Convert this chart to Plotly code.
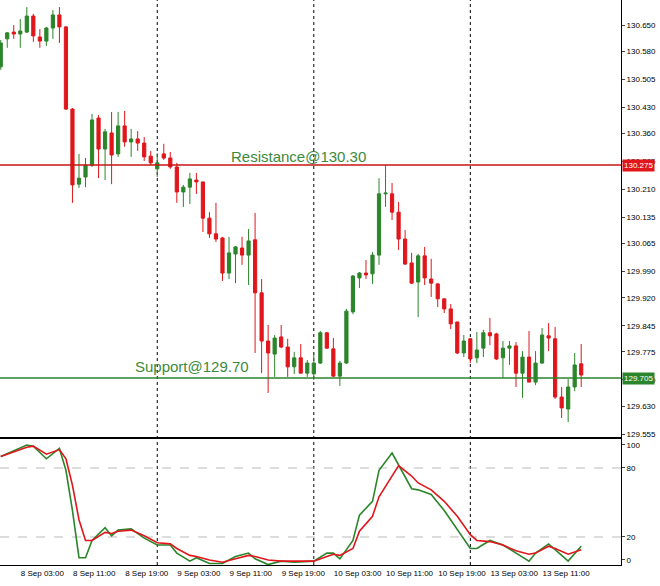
import plotly.graph_objects as go

# hourly candles, 8 Sep 00:00 .. 13 Sep 17:00 (weekend skipped)
days = ["8 Sep", "9 Sep", "10 Sep", "13 Sep"]
hours_per_day = [24, 24, 24, 18]
times = [f"{d} {h:02d}:00" for d, n in zip(days, hours_per_day) for h in range(n)]

opens = [130.538, 130.613, 130.631, 130.626, 130.631, 130.674, 130.618, 130.607, 130.642, 130.677,
         130.645, 130.425, 130.224, 130.243, 130.275, 130.401, 130.318, 130.361, 130.305, 130.380,
         130.337, 130.345, 130.334, 130.299, 130.265, 130.305, 130.294, 130.270, 130.203, 130.216,
         130.235, 130.230, 130.133, 130.091, 130.080, 129.986, 130.037, 130.053, 130.034, 130.075,
         129.933, 129.804, 129.769, 129.815, 129.788, 129.735, 129.759, 129.718, 129.716, 129.745,
         129.826, 129.783, 129.710, 129.745, 129.882, 129.973, 129.986, 129.984, 130.034, 130.198,
         130.198, 130.149, 130.077, 130.013, 129.962, 130.032, 129.970, 129.957, 129.917, 129.890,
         129.855, 129.772, 129.810, 129.759, 129.785, 129.826, 129.823, 129.759, 129.785, 129.791,
         129.718, 129.761, 129.694, 129.745, 129.818, 129.810, 129.654, 129.622, 129.681, 129.743]
highs = [130.610, 130.631, 130.650, 130.666, 130.698, 130.680, 130.639, 130.645, 130.690, 130.698,
         130.647, 130.428, 130.305, 130.294, 130.412, 130.409, 130.372, 130.417, 130.417, 130.420,
         130.372, 130.366, 130.350, 130.313, 130.307, 130.332, 130.310, 130.281, 130.222, 130.254,
         130.254, 130.230, 130.149, 130.174, 130.083, 130.083, 130.058, 130.083, 130.104, 130.147,
         129.970, 129.847, 129.820, 129.847, 129.810, 129.775, 129.796, 129.753, 129.772, 129.831,
         129.828, 129.812, 129.751, 129.890, 129.981, 129.989, 130.021, 130.042, 130.240, 130.275,
         130.227, 130.176, 130.101, 130.040, 130.037, 130.056, 130.024, 129.959, 129.917, 129.903,
         129.855, 129.820, 129.812, 129.828, 129.834, 129.866, 129.826, 129.804, 129.804, 129.801,
         129.777, 129.831, 129.777, 129.839, 129.852, 129.842, 129.681, 129.702, 129.772, 129.796]
lows = [130.530, 130.589, 130.613, 130.589, 130.629, 130.605, 130.589, 130.594, 130.613, 130.602,
        130.423, 130.174, 130.214, 130.216, 130.270, 130.240, 130.235, 130.224, 130.297, 130.324,
        130.297, 130.313, 130.286, 130.275, 130.243, 130.289, 130.265, 130.174, 130.163, 130.171,
        130.198, 130.096, 130.080, 130.069, 129.965, 129.970, 129.959, 130.008, 129.954, 129.772,
        129.718, 129.665, 129.708, 129.785, 129.708, 129.716, 129.718, 129.708, 129.700, 129.743,
        129.783, 129.708, 129.684, 129.743, 129.876, 129.946, 129.970, 129.957, 130.008, 130.163,
        130.128, 130.048, 130.008, 129.957, 129.868, 129.954, 129.922, 129.895, 129.879, 129.836,
        129.769, 129.761, 129.745, 129.745, 129.761, 129.793, 129.753, 129.705, 129.740, 129.681,
        129.652, 129.694, 129.686, 129.743, 129.777, 129.649, 129.598, 129.587, 129.670, 129.681]
closes = [130.602, 130.629, 130.626, 130.634, 130.674, 130.621, 130.607, 130.642, 130.677, 130.645,
          130.425, 130.222, 130.240, 130.275, 130.396, 130.318, 130.364, 130.302, 130.380, 130.337,
          130.345, 130.334, 130.297, 130.281, 130.281, 130.294, 130.270, 130.203, 130.216, 130.238,
          130.230, 130.133, 130.091, 130.077, 129.986, 130.040, 130.056, 130.034, 130.072, 129.933,
          129.804, 129.772, 129.812, 129.788, 129.735, 129.759, 129.718, 129.745, 129.745, 129.826,
          129.785, 129.710, 129.745, 129.884, 129.978, 129.986, 129.981, 130.034, 130.198, 130.200,
          130.149, 130.077, 130.010, 129.959, 130.032, 129.973, 129.959, 129.917, 129.890, 129.850,
          129.772, 129.804, 129.756, 129.780, 129.826, 129.818, 129.756, 129.785, 129.791, 129.718,
          129.761, 129.694, 129.745, 129.820, 129.812, 129.654, 129.625, 129.681, 129.740, 129.713]

resistance = 130.275
support = 129.705

# stochastic, read at the visible turning points (candle index, value)
k_idx = [0, 4, 5, 7, 9, 10, 11, 12, 13, 14, 16, 17, 18, 20, 22, 24, 26, 27, 29, 30, 32, 34, 36, 38, 39,
         41, 43, 45, 48, 50, 51, 52, 54, 55, 57, 58, 60, 61, 63, 64, 66, 68, 70, 72, 73, 75, 77, 79, 81,
         82, 84, 85, 87, 89]
k_val = [90, 100, 99, 88, 97, 78, 43, 2, 2, 17, 28, 21, 26, 27, 19, 13, 13, 6, -1, 2, -3, -3, 3, 6, 1,
         -4, -1, -2, -1, 6, 6, 1, 17, 39, 51, 78, 93, 83, 62, 61, 57, 43, 26, 10, 10, 17, 13, 6, -1,
         6, 14, 9, -1, 12]
d_val = [90, 98, 99, 92, 96, 88, 65, 35, 17, 17, 24, 23, 25, 26, 21, 15, 14, 10, 4, 3, 0, -2, 1, 4, 3,
         0, -1, -1, -1, 3, 5, 4, 10, 25, 38, 55, 73, 82, 73, 67, 61, 51, 38, 22, 17, 16, 13, 8, 5,
         6, 12, 10, 5, 9]

price_ticks = [130.650, 130.580, 130.505, 130.430, 130.360, 130.285, 130.210, 130.135, 130.065,
               129.990, 129.920, 129.845, 129.775, 129.700, 129.630, 129.555]
stoch_ticks = [0, 20, 80, 100]

GREEN = "#2b852b"
RED = "#e0161b"
x = list(range(len(times)))

fig = go.Figure()
fig.add_trace(go.Candlestick(
    x=x, open=opens, high=highs, low=lows, close=closes,
    increasing=dict(line=dict(color=GREEN, width=1), fillcolor=GREEN),
    decreasing=dict(line=dict(color=RED, width=1), fillcolor=RED),
    whiskerwidth=0, showlegend=False, xaxis="x", yaxis="y"))
fig.add_trace(go.Scatter(x=k_idx, y=k_val, mode="lines", line=dict(color=GREEN, width=1.6),
                         showlegend=False, xaxis="x2", yaxis="y2"))
fig.add_trace(go.Scatter(x=k_idx, y=d_val, mode="lines", line=dict(color=RED, width=1.6),
                         showlegend=False, xaxis="x2", yaxis="y2"))

xrange = [-0.11, 95.1]
ticks_x = list(range(3, len(times), 8))
fig.update_layout(
    width=660, height=586, margin=dict(l=0, r=39, t=0, b=21),
    paper_bgcolor="white", plot_bgcolor="white",
    font=dict(family="Liberation Sans, Arial", size=8, color="black"),
    xaxis=dict(domain=[0, 1], range=xrange, showticklabels=False, showgrid=False,
               rangeslider=dict(visible=False), showline=True, mirror=True, automargin=False,
               linecolor="black", linewidth=1, anchor="y"),
    yaxis=dict(domain=[0.2265, 1], range=[129.547, 130.717], side="right", automargin=False,
               tickvals=price_ticks, ticktext=[f"{v:.3f}" for v in price_ticks],
               ticks="outside", ticklen=3, showgrid=False, showline=True, mirror=True,
               linecolor="black", linewidth=1, anchor="x"),
    xaxis2=dict(domain=[0, 1], range=xrange, tickvals=ticks_x, automargin=False, tickangle=0,
                ticktext=[times[i] for i in ticks_x], ticklabelposition="outside right",
                tickfont=dict(size=8), showgrid=False, showline=True, mirror=True,
                linecolor="black", linewidth=1, anchor="y2"),
    yaxis2=dict(domain=[0, 0.223], range=[-4.35, 105.2], side="right", automargin=False,
                tickvals=stoch_ticks, ticks="outside", ticklen=3,
                showgrid=False, zeroline=False, showline=True, mirror=True,
                linecolor="black", linewidth=1, anchor="x2"),
)

# day separators
for i in [24, 48, 72]:
    fig.add_shape(type="line", x0=i, x1=i, y0=0, y1=1, xref="x", yref="paper",
                  line=dict(color="black", width=1, dash="dot"), layer="below")

# stochastic levels
for lv in [20, 80]:
    fig.add_shape(type="line", x0=0, x1=1, y0=lv, y1=lv, xref="paper", yref="y2",
                  line=dict(color="#bbbbbb", width=1, dash="dash"), layer="below")

fig.add_shape(type="line", x0=0, x1=1, y0=resistance, y1=resistance, xref="paper", yref="y",
              line=dict(color="#c81414", width=1.5))
fig.add_shape(type="line", x0=0, x1=1, y0=support, y1=support, xref="paper", yref="y",
              line=dict(color="#2b852b", width=1.5))

fig.add_annotation(x=35, y=resistance, yshift=9, text="Resistance@130.30", xref="x", yref="y",
                   xanchor="left", showarrow=False,
                   font=dict(family="Liberation Sans, Arial", size=15, color="#3d8a3d"))
fig.add_annotation(x=20.3, y=support, yshift=12, text="Support@129.70", xref="x", yref="y",
                   xanchor="left", showarrow=False,
                   font=dict(family="Liberation Sans, Arial", size=15, color="#3d8a3d"))

for lvl, col in [(resistance, "#e0161b"), (support, "#2b852b")]:
    fig.add_annotation(x=1, y=lvl, xref="paper", yref="y", xanchor="left", xshift=1,
                       text=f"{lvl:.3f}", showarrow=False, bgcolor=col, borderpad=1,
                       font=dict(size=8, color="white"))

fig.write_html("out.html", config={"displayModeBar": False},
               post_script="document.body.style.margin='0';")
